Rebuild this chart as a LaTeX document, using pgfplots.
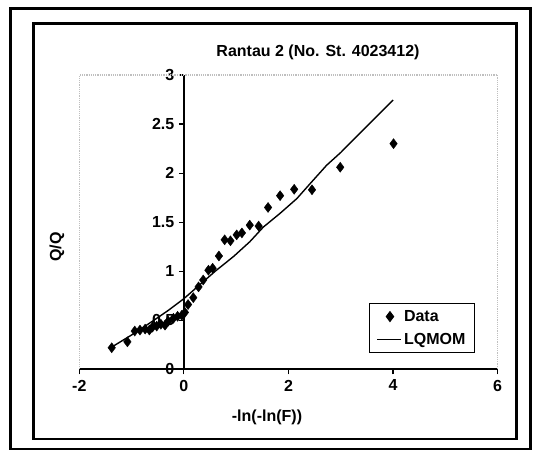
\documentclass[border=0pt]{standalone}
\usepackage{pgfplots}
\pgfplotsset{compat=1.18}
\usepackage{fontspec}
\setmainfont{Liberation Sans}
\newcommand{\tfont}{\fontsize{16}{19}\selectfont\bfseries}
\begin{document}
\begin{tikzpicture}
\useasboundingbox (0pt,0pt) rectangle (541pt,-450pt);
\fill[white] (0pt,0pt) rectangle (541pt,-450pt);
\draw[line width=2.2pt] (10.5pt,-8.5pt) rectangle (530.5pt,-449pt);
\draw[line width=2.2pt] (33.5pt,-23.5pt) rectangle (516.5pt,-439pt);
\begin{axis}[
  at={(79.3pt,-369.3pt)}, anchor=south west,
  scale only axis, width=418.3pt, height=294.3pt,
  xmin=-2, xmax=6, ymin=0, ymax=3,
  axis x line=bottom, axis y line=middle,
  x axis line style={-, line width=2.2pt},
  y axis line style={-, line width=1.4pt},
  hide obscured x ticks=false, hide obscured y ticks=false,
  xtick={-2,0,2,4,6}, ytick={0,0.5,1,1.5,2,2.5,3},
  xticklabels={-2,0,2,4,6},
  yticklabels={0,0.5,1,1.5,2,2.5,3},
  tick align=outside, major tick length=5pt,
  tick style={black, line width=1.2pt},
  ticklabel style={font=\tfont},
  x tick label style={yshift=-2pt},
  y tick label style={xshift=-1pt},
  legend style={at={(0.6926,0.0554)}, anchor=south west, draw=black, line width=0.9pt,
    font=\tfont, row sep=6pt, inner xsep=7pt, inner ysep=5pt},
  legend cell align=left,
  clip=false,
]
\addplot[only marks, mark=diamond*, mark size=5pt, black] coordinates {
(-1.38,0.22) (-1.08,0.28) (-0.94,0.39) (-0.84,0.40) (-0.74,0.41) (-0.66,0.40)
(-0.60,0.43) (-0.52,0.44) (-0.44,0.46) (-0.36,0.45) (-0.30,0.49) (-0.20,0.52)
(-0.12,0.54) (-0.04,0.55) (0.02,0.58) (0.08,0.66) (0.18,0.73) (0.28,0.84)
(0.37,0.91) (0.47,1.01) (0.55,1.03) (0.67,1.155) (0.78,1.32) (0.89,1.31)
(1.01,1.37) (1.11,1.39) (1.26,1.47) (1.43,1.46) (1.61,1.65) (1.84,1.77)
(2.11,1.835) (2.45,1.83) (2.99,2.06) (4.01,2.30)
};
\addlegendentry{Data}
\addplot[black, line width=1.4pt, mark=none,
  legend image code/.code={\draw[black, line width=1.4pt] (-0.15cm,0cm) -- (0.7cm,0cm);}] coordinates {
(-1.40,0.22) (-1.0,0.35) (-0.6,0.49) (-0.3,0.60) (0.0,0.72) (0.3,0.86)
(0.6,1.00) (0.95,1.15) (1.26,1.30) (1.52,1.45) (1.84,1.59) (2.16,1.74)
(2.41,1.89) (2.73,2.08) (3.0,2.21) (3.43,2.44) (4.0,2.745)
};
\addlegendentry{LQMOM}
\draw[gray!50, densely dotted, line width=1.2pt] (rel axis cs:0,0) -- (rel axis cs:0,1) -- (rel axis cs:1,1) -- (rel axis cs:1,0);
\end{axis}
\node[font=\tfont] at (318pt,-52pt) {Rantau 2 (No. St. 4023412)};
\node[font=\tfont, rotate=90] at (57pt,-247pt) {Q/Q};
\node[font=\tfont] at (267pt,-417pt) {-ln(-ln(F))};
\end{tikzpicture}
\end{document}
